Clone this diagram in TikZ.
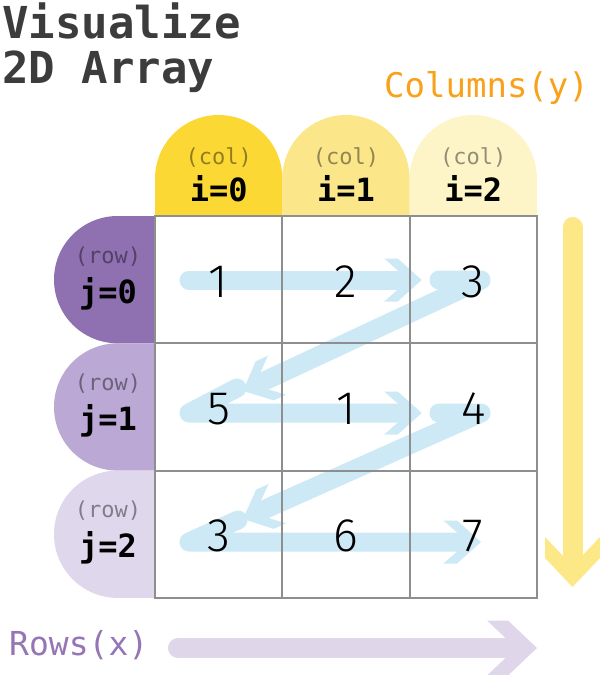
\documentclass[tikz,border=0pt]{standalone}
\usepackage{fontspec}
\setmonofont{DejaVu Sans Mono}
\newfontfamily\numfont{Fira Sans Light}
\usetikzlibrary{calc}
\definecolor{colA}{HTML}{FCD835}
\definecolor{colB}{HTML}{FBE68A}
\definecolor{colC}{HTML}{FDF5C8}
\definecolor{rowA}{HTML}{8F70B0}
\definecolor{rowB}{HTML}{BBA8D5}
\definecolor{rowC}{HTML}{DFD7EB}
\definecolor{arrblue}{HTML}{CDE9F6}
\definecolor{arryel}{HTML}{FCE886}
\definecolor{arrpur}{HTML}{DFD6EA}
\definecolor{titlegray}{HTML}{3C3C3C}
\definecolor{orangetxt}{HTML}{F9A11B}
\definecolor{purpletxt}{HTML}{9575B5}
\definecolor{gridgray}{HTML}{8E8E8E}
\newcommand\mychev[7]{%
  \path ($(#1)!#3!(#2)$) coordinate (ca) ($(#1)!#4!(#2)$) coordinate (cb) ($(#1)!#5!(#2)$) coordinate (cn);
  \fill[#7] (#1) -- ($(ca)!#6!90:(#1)$) -- ($(cb)!#6!90:(#1)$) -- (cn) -- ($(cb)!#6!-90:(#1)$) -- ($(ca)!#6!-90:(#1)$) -- cycle;}
\begin{document}
\begin{tikzpicture}[x=1pt,y=-1pt,
  txt/.style={inner sep=0pt,anchor=base},
  titletxt/.style={txt,anchor=base west,text=titlegray,font=\ttfamily\bfseries\fontsize{44}{50}\selectfont},
  smalltag/.style={txt,text=black,text opacity=0.42,font=\ttfamily\fontsize{22}{24}\selectfont},
  idxtag/.style={txt,text=black,font=\ttfamily\bfseries\fontsize{32}{36}\selectfont},
  num/.style={inner sep=0pt,anchor=center,font=\numfont\fontsize{47}{50}\selectfont},
  blueln/.style={draw=arrblue,line width=19pt,line cap=round,line join=round},
  yelln/.style={draw=arryel,line width=20pt,line cap=round},
  purln/.style={draw=arrpur,line width=20pt,line cap=round},
  gridln/.style={draw=gridgray,line width=1.8pt}]
\useasboundingbox (0,0) rectangle (600,675);
\fill[white] (0,0) rectangle (600,675);

% title
\node[titletxt] (t1) at (2,38) {Visualize};
\node[titletxt] (t2) at (2,83) {2D Array};
\node[txt,anchor=base west,text=orangetxt,font=\ttfamily\fontsize{34}{38}\selectfont] (coltitle) at (384,97) {Columns(y)};
\node[txt,anchor=base west,text=purpletxt,font=\ttfamily\fontsize{33}{36}\selectfont] (rowtitle) at (9,655) {Rows(x)};

% column tabs
\foreach \i/\c in {0/colA,1/colB,2/colC}{
  \pgfmathsetmacro\xa{155+127.3*\i}
  \pgfmathsetmacro\xb{\xa+127.3}
  \pgfmathsetmacro\xc{\xa+63.65}
  \fill[\c] (\xa,216) -- (\xa,178.65) arc[start angle=180,end angle=0,radius=63.65pt] -- (\xb,216) -- cycle;
  \node[smalltag] (ct\i) at (\xc,164) {(col)};
  \node[idxtag] (ci\i) at (\xc,201) {i=\i};
}
% row tabs
\foreach \j/\c in {0/rowA,1/rowB,2/rowC}{
  \pgfmathsetmacro\ya{216+127.3*\j}
  \pgfmathsetmacro\yb{\ya+127.3}
  \fill[\c] (155,\ya) -- (117.65,\ya) arc[start angle=90,end angle=270,radius=63.65pt] -- (155,\yb) -- cycle;
  \node[smalltag] (rt\j) at (108,\ya+47) {(row)};
  \node[idxtag] (rj\j) at (108,\ya+87) {j=\j};
}

% blue traversal arrows
\coordinate (r0s) at (189,280);
\coordinate (r0h) at (421.7,280);
\coordinate (b0a) at (439,280);
\coordinate (b0b) at (481,280);
\coordinate (d0t) at (243,391);
\coordinate (r1a) at (237,388);
\coordinate (r1b) at (189,413);
\coordinate (r1h) at (421.7,413);
\coordinate (b1a) at (439,413);
\coordinate (b1b) at (481,413);
\coordinate (d1t) at (243,519);
\coordinate (r2a) at (238,520);
\coordinate (r2b) at (189,542);
\coordinate (r2h) at (481,542);

\draw[blueln] (r0s) -- ($(r0h)!22pt!(r0s)$);
\mychev{r0h}{r0s}{24pt}{37.5pt}{13pt}{21.5pt}{arrblue}
\draw[blueln] (b0a) -- (b0b) -- ($(d0t)!22pt!(b0b)$);
\mychev{d0t}{b0b}{24pt}{37.5pt}{13pt}{21.5pt}{arrblue}
\draw[blueln] (r1a) -- (r1b) -- ($(r1h)!22pt!(r1b)$);
\mychev{r1h}{r1b}{24pt}{37.5pt}{13pt}{21.5pt}{arrblue}
\draw[blueln] (b1a) -- (b1b) -- ($(d1t)!22pt!(b1b)$);
\mychev{d1t}{b1b}{24pt}{37.5pt}{13pt}{21.5pt}{arrblue}
\draw[blueln] (r2a) -- (r2b) -- ($(r2h)!22pt!(r2b)$);
\mychev{r2h}{r2b}{24pt}{37.5pt}{13pt}{21.5pt}{arrblue}

% grid
\draw[gridln] (155,216) rectangle (537,598);
\foreach \k in {1,2}{
  \draw[gridln] (155+127.3*\k,216) -- (155+127.3*\k,598);
  \draw[gridln] (155,216+127.3*\k) -- (537,216+127.3*\k);
}

% numbers
\foreach \v [count=\n from 0] in {1,2,3,5,1,4,3,6,7}{
  \pgfmathtruncatemacro\ci{mod(\n,3)}
  \pgfmathtruncatemacro\ri{div(\n,3)}
  \node[num] (n\n) at (218.65+127.3*\ci,281.5+127.3*\ri) {\v};
}

% yellow column arrow
\coordinate (ys) at (572.5,227);
\coordinate (yt) at (572.5,587);
\draw[yelln] (ys) -- ($(yt)!31pt!(ys)$);
\mychev{yt}{ys}{29pt}{50pt}{21pt}{27.5pt}{arryel}

% purple row arrow
\coordinate (ps) at (178,648);
\coordinate (pt) at (537,648);
\draw[purln] (ps) -- ($(pt)!31pt!(ps)$);
\mychev{pt}{ps}{29pt}{50pt}{21pt}{27.5pt}{arrpur}
\end{tikzpicture}
\end{document}
